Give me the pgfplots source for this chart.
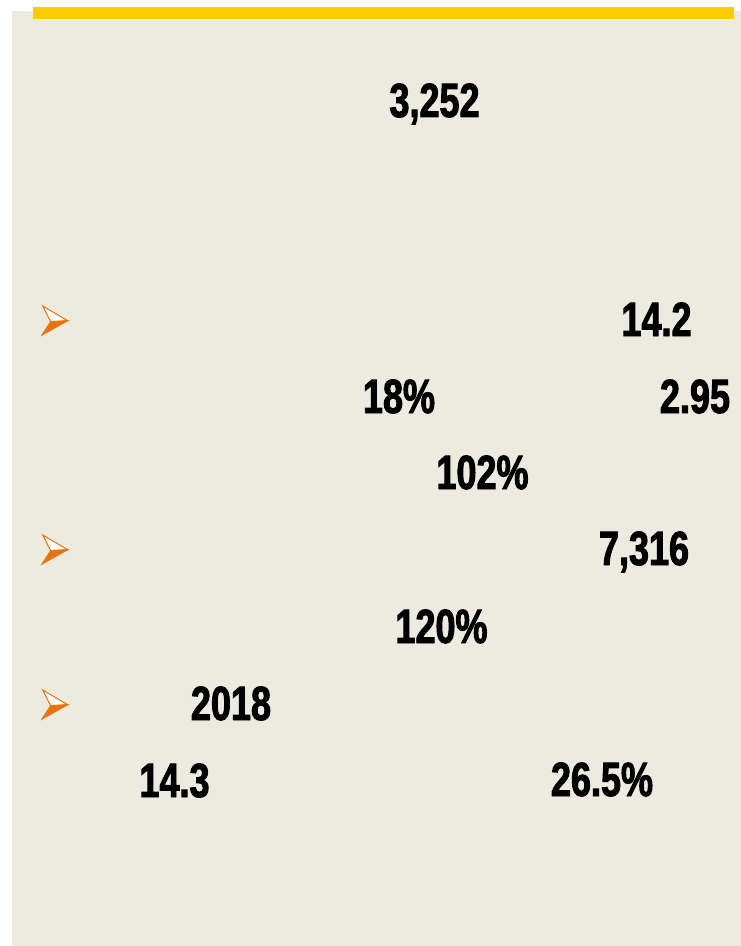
\documentclass[border=0pt]{standalone}
\usepackage{pgfplots}
\pgfplotsset{compat=1.18}
\usepackage{fontspec}
\newfontfamily\numfont{Liberation Sans}[FakeStretch=0.75, BoldFeatures={FakeBold=2}]
\definecolor{bg}{RGB}{237,234,224}
\definecolor{topbar}{RGB}{255,204,0}
\definecolor{arrowor}{RGB}{232,114,12}
\pgfdeclareplotmark{arrowhead}{%
  \pgfsetlinewidth{1bp}%
  \pgfsetstrokecolor{arrowor}%
  \pgfpathmoveto{\pgfpoint{-12.3bp}{15bp}}%
  \pgfpathlineto{\pgfpoint{12.7bp}{0.3bp}}%
  \pgfpathlineto{\pgfpoint{-4.3bp}{-0.7bp}}%
  \pgfpathclose
  \pgfsetfillcolor{white}%
  \pgfusepath{fill,stroke}%
  \pgfpathmoveto{\pgfpoint{-4.3bp}{-0.7bp}}%
  \pgfpathlineto{\pgfpoint{12.7bp}{0.3bp}}%
  \pgfpathlineto{\pgfpoint{-13bp}{-14bp}}%
  \pgfpathclose
  \pgfsetfillcolor{arrowor}%
  \pgfusepath{fill,stroke}%
}
\pgfplotstableread{
x y label
434.5 117 3,252
656.5 336 14.2
399 413 18\%
695 413 2.95
482.5 489 102\%
644 565 7,316
441.5 643 120\%
231 720 2018
174.5 797 14.3
602 796 26.5\%
}\labels
\pgfplotstableread{
x y
55 321
55 550
55 705
}\arrows
\begin{document}
\begin{tikzpicture}
\begin{axis}[
  width=741bp, height=946bp, scale only axis,
  xmin=0, xmax=741, ymin=0, ymax=946, y dir=reverse,
  hide axis, clip=false,
]
\addplot[draw=none, fill=white] coordinates {(0,0) (741,0) (741,946) (0,946)};
\addplot[draw=none, fill=bg] coordinates {(12,11) (741,11) (741,946) (12,946)};
\addplot[draw=none, fill=topbar] coordinates {(33,7) (734,7) (734,19) (33,19)};
\addplot[draw=none, mark=arrowhead] table[x=x, y=y] {\arrows};
\addplot[draw=none, mark=none, point meta=explicit symbolic, nodes near coords,
  every node near coord/.append style={anchor=base, inner sep=0pt, text=black,
    font=\numfont\bfseries\fontsize{48bp}{50bp}\selectfont}]
  table[x=x, y=y, meta=label] {\labels};
\end{axis}
\end{tikzpicture}
\end{document}
